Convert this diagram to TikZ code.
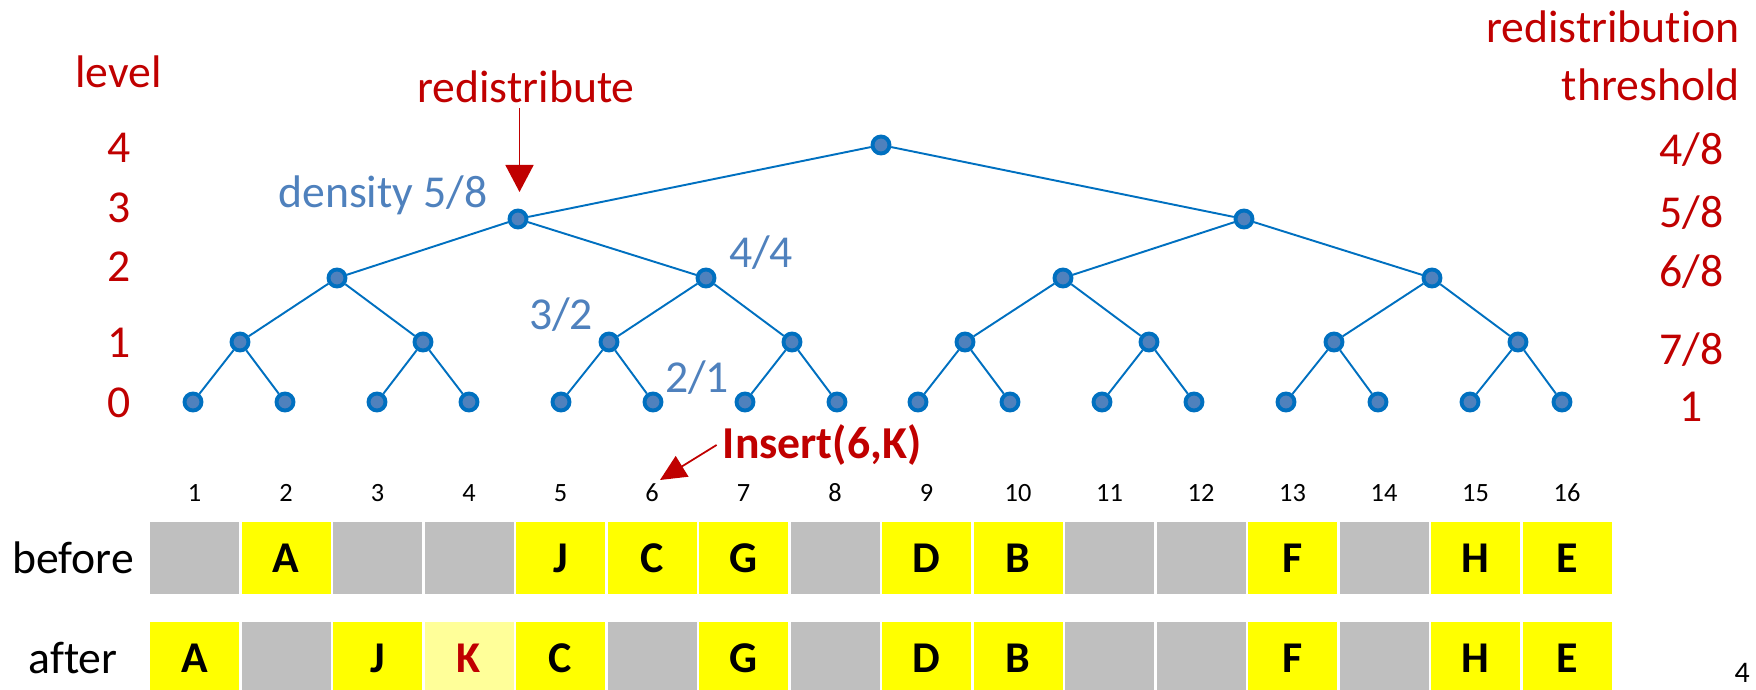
\documentclass[tikz,border=0pt]{standalone}
\usepackage{fontspec}
\setmainfont{Carlito}[Ligatures=NoCommon]
\usetikzlibrary{arrows.meta}

\definecolor{treeblue}{RGB}{0,112,192}
\definecolor{dotblue}{RGB}{79,129,189}
\definecolor{textblue}{RGB}{79,129,189}
\definecolor{darkred}{RGB}{192,0,0}
\definecolor{cellgray}{RGB}{191,191,191}
\definecolor{cellyellow}{RGB}{255,255,0}
\definecolor{paleyellow}{RGB}{255,255,153}

\begin{document}
\begin{tikzpicture}

\tikzstyle dot=[circle, draw=treeblue, fill=dotblue, line width=2.2pt, minimum size=0.34cm, inner sep=0pt]
\tikzstyle edge=[treeblue, line width=1.1pt]
\tikzstyle redlbl=[text=darkred, font=\fontsize{26}{31}\selectfont]
\tikzstyle bluelbl=[text=textblue, font=\fontsize{26}{31}\selectfont]
\tikzstyle idx=[font=\fontsize{15}{18}\selectfont]
\tikzstyle empty=[fill=cellgray, minimum width=1.78cm, minimum height=1.44cm, inner sep=0pt]
\tikzstyle full=[fill=cellyellow, minimum width=1.78cm, minimum height=1.44cm, inner sep=0pt, font=\fontsize{25}{30}\selectfont\bfseries]
\tikzstyle newfull=[full, fill=paleyellow, text=darkred]
\tikzstyle redarrow=[darkred, line width=1pt]

\useasboundingbox (0,0) rectangle (35.12,13.8);

% tree
\node (root) [dot] at (17.62,10.90) {};
\node (l3a) [dot] at (10.36,9.42) {};
\node (l3b) [dot] at (24.88,9.42) {};
\node (l2a) [dot] at (6.74,8.24) {};
\node (l2b) [dot] at (14.12,8.24) {};
\node (l2c) [dot] at (21.26,8.24) {};
\node (l2d) [dot] at (28.64,8.24) {};
\node (l1a) [dot] at (4.80,6.96) {};
\node (l1b) [dot] at (8.46,6.96) {};
\node (l1c) [dot] at (12.18,6.96) {};
\node (l1d) [dot] at (15.84,6.96) {};
\node (l1e) [dot] at (19.30,6.96) {};
\node (l1f) [dot] at (22.98,6.96) {};
\node (l1g) [dot] at (26.68,6.96) {};
\node (l1h) [dot] at (30.36,6.96) {};
\node (l0a) [dot] at (3.86,5.76) {};
\node (l0b) [dot] at (5.70,5.76) {};
\node (l0c) [dot] at (7.54,5.76) {};
\node (l0d) [dot] at (9.38,5.76) {};
\node (l0e) [dot] at (11.22,5.76) {};
\node (l0f) [dot] at (13.06,5.76) {};
\node (l0g) [dot] at (14.90,5.76) {};
\node (l0h) [dot] at (16.74,5.76) {};
\node (l0i) [dot] at (18.36,5.76) {};
\node (l0j) [dot] at (20.20,5.76) {};
\node (l0k) [dot] at (22.04,5.76) {};
\node (l0l) [dot] at (23.88,5.76) {};
\node (l0m) [dot] at (25.72,5.76) {};
\node (l0n) [dot] at (27.56,5.76) {};
\node (l0o) [dot] at (29.40,5.76) {};
\node (l0p) [dot] at (31.24,5.76) {};

\draw [edge] (root) -- (l3a);
\draw [edge] (root) -- (l3b);
\draw [edge] (l3a) -- (l2a);
\draw [edge] (l3a) -- (l2b);
\draw [edge] (l3b) -- (l2c);
\draw [edge] (l3b) -- (l2d);
\draw [edge] (l2a) -- (l1a);
\draw [edge] (l2a) -- (l1b);
\draw [edge] (l2b) -- (l1c);
\draw [edge] (l2b) -- (l1d);
\draw [edge] (l2c) -- (l1e);
\draw [edge] (l2c) -- (l1f);
\draw [edge] (l2d) -- (l1g);
\draw [edge] (l2d) -- (l1h);
\draw [edge] (l1a) -- (l0a);
\draw [edge] (l1a) -- (l0b);
\draw [edge] (l1b) -- (l0c);
\draw [edge] (l1b) -- (l0d);
\draw [edge] (l1c) -- (l0e);
\draw [edge] (l1c) -- (l0f);
\draw [edge] (l1d) -- (l0g);
\draw [edge] (l1d) -- (l0h);
\draw [edge] (l1e) -- (l0i);
\draw [edge] (l1e) -- (l0j);
\draw [edge] (l1f) -- (l0k);
\draw [edge] (l1f) -- (l0l);
\draw [edge] (l1g) -- (l0m);
\draw [edge] (l1g) -- (l0n);
\draw [edge] (l1h) -- (l0o);
\draw [edge] (l1h) -- (l0p);

% densities
\node (d3) [bluelbl] at (7.66,9.90) {density 5/8};
\node (d2) [bluelbl] at (15.22,8.74) {4/4};
\node (d1) [bluelbl] at (11.22,7.50) {3/2};
\node (d0) [bluelbl] at (13.94,6.24) {2/1};

% levels
\node (lev) [redlbl] at (2.37,12.36) {level};
\node (v4) [redlbl] at (2.38,10.84) {4};
\node (v3) [redlbl] at (2.38,9.64) {3};
\node (v2) [redlbl] at (2.38,8.46) {2};
\node (v1) [redlbl] at (2.38,6.94) {1};
\node (v0) [redlbl] at (2.38,5.74) {0};

% thresholds
\node (thr1) [redlbl, anchor=east] at (34.92,13.26) {redistribution};
\node (thr2) [redlbl, anchor=east] at (34.92,12.10) {threshold};
\node (h4) [redlbl] at (33.83,10.80) {4/8};
\node (h3) [redlbl] at (33.83,9.54) {5/8};
\node (h2) [redlbl] at (33.83,8.36) {6/8};
\node (h1) [redlbl] at (33.83,6.80) {7/8};
\node (h0) [redlbl] at (33.83,5.66) {1};

% redistribute arrow
\node (redis) [redlbl] at (10.52,12.06) {redistribute};
\coordinate (rtail) at (10.39,11.64);
\coordinate (rtip) at (10.39,9.96);
\draw [redarrow, -{Triangle[width=0.56cm, length=0.54cm]}] (rtail) -- (rtip);

% insert
\node (ins) [redlbl, font=\fontsize{26}{31}\selectfont\bfseries] at (16.44,4.90) {Insert(6,K)};
\coordinate (itip) at (13.20,4.20);
\draw [redarrow, -{Triangle[width=0.48cm, length=0.52cm]}] (ins.west) -- (itip);

% indices
\node (n1) [idx] at (3.89,3.94) {1};
\node (n2) [idx] at (5.72,3.94) {2};
\node (n3) [idx] at (7.55,3.94) {3};
\node (n4) [idx] at (9.38,3.94) {4};
\node (n5) [idx] at (11.21,3.94) {5};
\node (n6) [idx] at (13.04,3.94) {6};
\node (n7) [idx] at (14.87,3.94) {7};
\node (n8) [idx] at (16.70,3.94) {8};
\node (n9) [idx] at (18.53,3.94) {9};
\node (n10) [idx] at (20.36,3.94) {10};
\node (n11) [idx] at (22.19,3.94) {11};
\node (n12) [idx] at (24.02,3.94) {12};
\node (n13) [idx] at (25.85,3.94) {13};
\node (n14) [idx] at (27.68,3.94) {14};
\node (n15) [idx] at (29.51,3.94) {15};
\node (n16) [idx] at (31.34,3.94) {16};

% before
\node (before) [font=\fontsize{26}{31}\selectfont] at (1.46,2.64) {before};
\node (b1) [empty] at (3.89,2.64) {};
\node (b2) [full] at (5.72,2.64) {A};
\node (b3) [empty] at (7.55,2.64) {};
\node (b4) [empty] at (9.38,2.64) {};
\node (b5) [full] at (11.21,2.64) {J};
\node (b6) [full] at (13.04,2.64) {C};
\node (b7) [full] at (14.87,2.64) {G};
\node (b8) [empty] at (16.70,2.64) {};
\node (b9) [full] at (18.53,2.64) {D};
\node (b10) [full] at (20.36,2.64) {B};
\node (b11) [empty] at (22.19,2.64) {};
\node (b12) [empty] at (24.02,2.64) {};
\node (b13) [full] at (25.85,2.64) {F};
\node (b14) [empty] at (27.68,2.64) {};
\node (b15) [full] at (29.51,2.64) {H};
\node (b16) [full] at (31.34,2.64) {E};

% after
\node (after) [font=\fontsize{26}{31}\selectfont] at (1.46,0.64) {after};
\node (a1) [full] at (3.89,0.64) {A};
\node (a2) [empty] at (5.72,0.64) {};
\node (a3) [full] at (7.55,0.64) {J};
\node (a4) [newfull] at (9.38,0.64) {K};
\node (a5) [full] at (11.21,0.64) {C};
\node (a6) [empty] at (13.04,0.64) {};
\node (a7) [full] at (14.87,0.64) {G};
\node (a8) [empty] at (16.70,0.64) {};
\node (a9) [full] at (18.53,0.64) {D};
\node (a10) [full] at (20.36,0.64) {B};
\node (a11) [empty] at (22.19,0.64) {};
\node (a12) [empty] at (24.02,0.64) {};
\node (a13) [full] at (25.85,0.64) {F};
\node (a14) [empty] at (27.68,0.64) {};
\node (a15) [full] at (29.51,0.64) {H};
\node (a16) [full] at (31.34,0.64) {E};

\node (page) [anchor=east, inner sep=0pt, font=\fontsize{17}{20}\selectfont] at (35.0,0.34) {4};

\end{tikzpicture}
\end{document}
